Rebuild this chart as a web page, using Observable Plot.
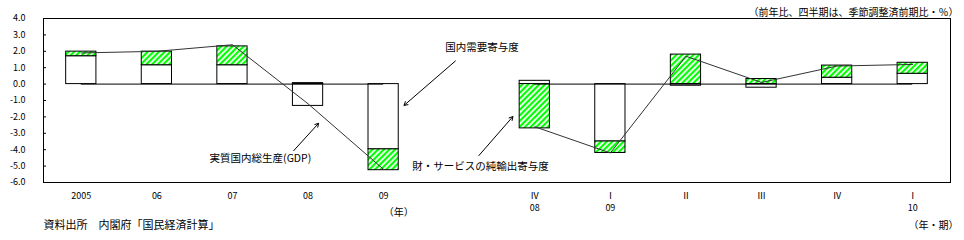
<!DOCTYPE html>
<html><head><meta charset="utf-8">
<script src="https://cdn.jsdelivr.net/npm/d3@7"></script>
<script src="https://cdn.jsdelivr.net/npm/@observablehq/plot@0.6"></script>
<style>
body{margin:0;background:#fff;}
#chart svg{display:block;}
</style></head><body><div id="chart"></div>
<script>
// ---- data ----
const annualLabels = ["2005", "06", "07", "08", "09"];
const quarterLabels = ["Ⅳ\n08", "Ⅰ\n09", "Ⅱ", "Ⅲ", "Ⅳ", "Ⅰ\n10"];
const domestic   = [1.70, 1.15, 1.15, -1.33, -3.98,  0.20, -3.50, -0.10, -0.22, 0.39, 0.63];
const netExports = [0.28, 0.83, 1.15,  0.06, -1.27, -2.70, -0.70,  1.80,  0.31, 0.74, 0.67];
const gdp        = [1.9,  2.0,  2.4,  -1.2,  -5.2,  -2.6,  -4.2,   1.7,   0.1,  1.1,  1.2];
const yTicks = [4, 3, 2, 1, 0, -1, -2, -3, -4, -5, -6];
const noteTop = "（前年比、四半期は、季節調整済前期比・％）";
const source = "資料出所　内閣府「国民経済計算」";
const unitYear = "（年）";
const unitQuarter = "（年・期）";
const notesMiddle = [
  {text: "国内需要寄与度", x: 5.30, y: 2.25},
  {text: "実質国内総生産(GDP)", x: 2.37, y: -4.57}
];
const notesStart = [
  {text: "財・サービスの純輸出寄与度", x: 4.38, y: -5.04}
];
const arrows = [
  {x1: 4.95, y1: 1.41, x2: 4.27, y2: -1.30},
  {x1: 2.81, y1: -4.06, x2: 3.14, y2: -2.39},
  {x1: 5.26, y1: -4.36, x2: 5.71, y2: -1.98}
];

// ---- derived tables ----
const labels = [...annualLabels, ...quarterLabels];
const slots = labels.map((_, i) => i < annualLabels.length ? i : i + 1); // one empty slot between groups
const group = labels.map((_, i) => i < annualLabels.length ? "annual" : "quarter");
const bars = [];
labels.forEach((l, i) => {
  bars.push({slot: slots[i], series: "domestic", value: domestic[i]});
  bars.push({slot: slots[i], series: "net", value: netExports[i]});
});
const gdpData = labels.map((l, i) => ({slot: slots[i], group: group[i], value: gdp[i]}));
const zeroData = ["annual", "quarter"].map(g => {
  const s = slots.filter((_, i) => group[i] === g);
  return {x1: s[0], x2: s[s.length - 1], y: 0};
});
const half = 0.2;

const chart = Plot.plot({
  width: 964, height: 240,
  marginTop: 18, marginBottom: 58, marginLeft: 43, marginRight: 14,
  x: {type: "linear", domain: [-0.5, slots[slots.length - 1] + 0.5]},
  y: {domain: [-6, 4]},
  color: {type: "identity"},
  style: {fontFamily: "'Noto Sans CJK JP', sans-serif", fontSize: "9px", color: "#000", background: "#fff"},
  marks: [
    Plot.rectY(bars, Plot.stackY({
      x1: d => d.slot - half, x2: d => d.slot + half, y: "value", z: "series",
      fill: d => d.series === "net" ? "url(#hatch)" : "white",
      stroke: "black", strokeWidth: 1
    })),
    Plot.ruleY(zeroData, {x1: "x1", x2: "x2", y: "y", stroke: "black", strokeWidth: 1}),
    Plot.line(gdpData, {x: "slot", y: "value", z: "group", stroke: "#333", strokeWidth: 1}),
    Plot.frame({stroke: "black"}),
    Plot.axisY({ticks: yTicks, tickSize: -3, tickPadding: 21, tickFormat: d => d.toFixed(1), label: null}),
    Plot.axisX({ticks: slots, tickSize: 0, tickPadding: 8, tickFormat: d => labels[slots.indexOf(d)], label: null, lineHeight: 1.35}),
    Plot.arrow(arrows, {x1: "x1", y1: "y1", x2: "x2", y2: "y2", stroke: "black", strokeWidth: 1, headLength: 6}),
    Plot.text(notesMiddle, {x: "x", y: "y", text: "text", textAnchor: "middle", fontSize: 10.5}),
    Plot.text(notesStart, {x: "x", y: "y", text: "text", textAnchor: "start", fontSize: 10.5}),
    Plot.text([noteTop], {text: d => d, frameAnchor: "top-right", textAnchor: "end", dx: 8, dy: -10, fontSize: 10}),
    Plot.text([source], {text: d => d, frameAnchor: "bottom-left", textAnchor: "start", dy: 46, fontSize: 11}),
    Plot.text([unitQuarter], {text: d => d, frameAnchor: "bottom-right", textAnchor: "end", dx: 8, dy: 46, fontSize: 10}),
    Plot.text([{x: 4.2, t: unitYear}], {x: "x", text: "t", frameAnchor: "bottom", dy: 33, fontSize: 10})
  ]
});

const ns = "http://www.w3.org/2000/svg";
const defs = document.createElementNS(ns, "defs");
defs.innerHTML = '<pattern id="hatch" patternUnits="userSpaceOnUse" width="4" height="4" patternTransform="rotate(45)">' +
  '<rect width="4" height="4" fill="white"/><rect width="2.2" height="4" fill="#00ff00"/></pattern>';
chart.insertBefore(defs, chart.firstChild);
document.getElementById("chart").appendChild(chart);
</script></body></html>
